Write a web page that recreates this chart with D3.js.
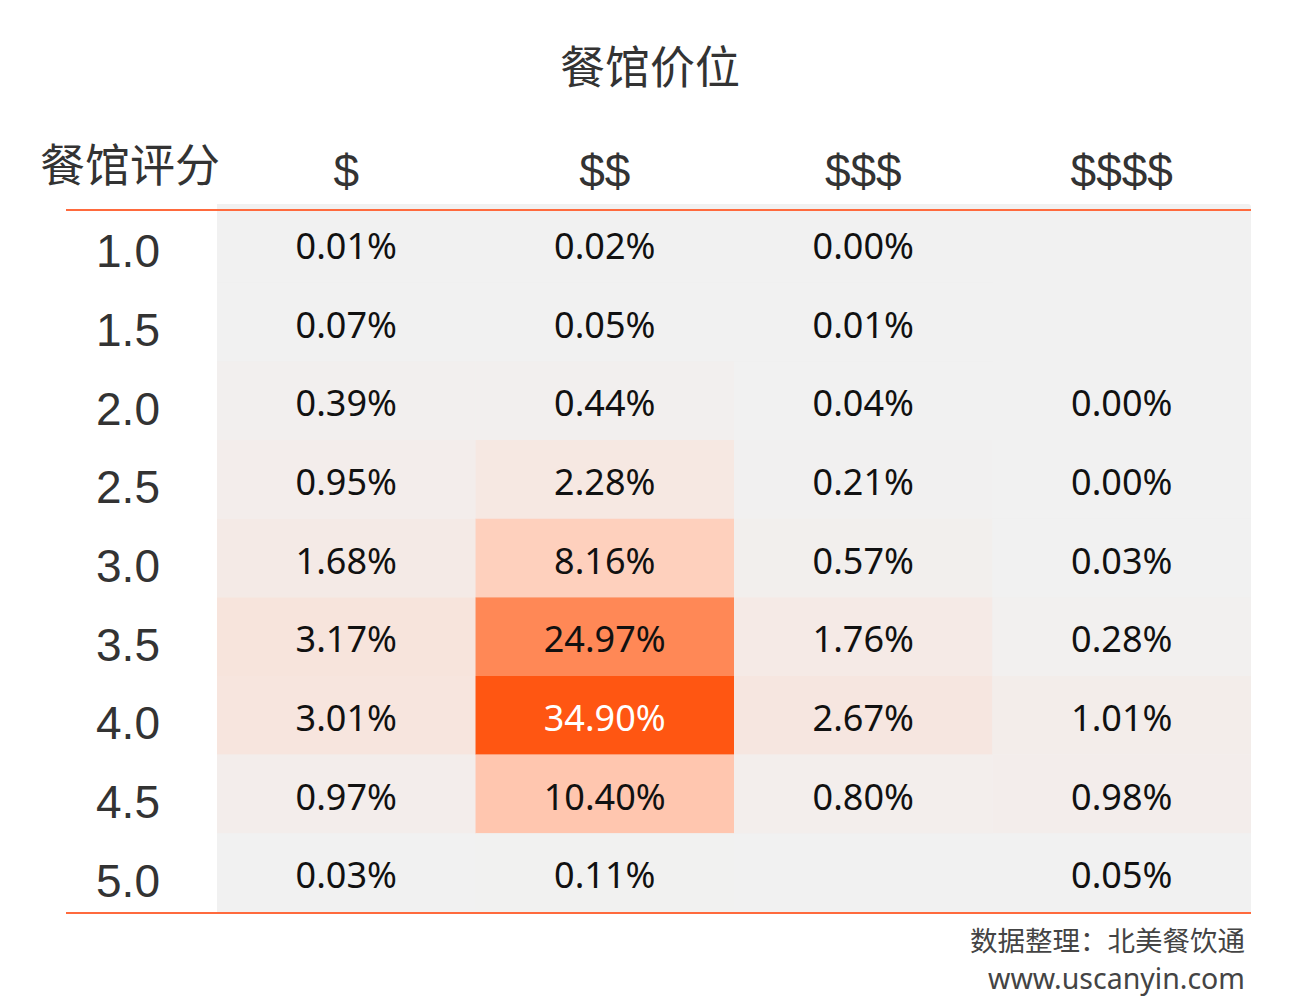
<!DOCTYPE html>
<html>
<head>
<meta charset="utf-8">
<script src="https://cdn.jsdelivr.net/npm/d3@7"></script>
<style>
  html, body { margin: 0; padding: 0; background: #ffffff; }
  svg { display: block; }
</style>
</head>
<body>
<svg id="chart" width="1300" height="1000"></svg>
<script>
// ---- data ----
const ratings = ["1.0", "1.5", "2.0", "2.5", "3.0", "3.5", "4.0", "4.5", "5.0"];
const prices = ["$", "$$", "$$$", "$$$$"];
const price1 = [0.01, 0.07, 0.39, 0.95, 1.68, 3.17, 3.01, 0.97, 0.03];
const price2 = [0.02, 0.05, 0.44, 2.28, 8.16, 24.97, 34.90, 10.40, 0.11];
const price3 = [0.00, 0.01, 0.04, 0.21, 0.57, 1.76, 2.67, 0.80, null];
const price4 = [null, null, 0.00, 0.00, 0.03, 0.28, 1.01, 0.98, 0.05];
const titleText = "餐馆价位";
const rowTitle = "餐馆评分";
const sourceText = "数据整理：北美餐饮通";
const siteText = "www.uscanyin.com";

(function () {
  const series = [price1, price2, price3, price4];
  const cells = [];
  prices.forEach((p, j) => {
    ratings.forEach((r, i) => {
      cells.push({ price: p, rating: r, value: series[j][i] });
    });
  });

  // ---- layout ----
  const svg = d3.select("#chart");
  const x0 = 217, x1 = 1251, y0 = 204, y1 = 912;

  const x = d3.scaleBand().domain(prices).range([x0, x1]);
  const y = d3.scaleBand().domain(ratings).range([y0, y1]);
  const maxV = d3.max(cells, d => d.value);
  const color = d3.scaleLinear().domain([0, maxV]).range(["#f1f1f1", "#ff5612"]).interpolate(d3.interpolateLab);

  // table background
  svg.append("rect")
    .attr("x", x0).attr("y", y0)
    .attr("width", x1 - x0).attr("height", y1 - y0)
    .attr("rx", 3)
    .attr("fill", "#f1f1f1");

  const filled = cells.filter(d => d.value !== null);

  // cells
  svg.append("g").selectAll("rect")
    .data(filled)
    .join("rect")
    .attr("x", d => x(d.price))
    .attr("y", d => y(d.rating))
    .attr("width", x.bandwidth())
    .attr("height", y.bandwidth())
    .attr("fill", d => color(d.value));

  // cell labels
  svg.append("g").selectAll("text")
    .data(filled)
    .join("text")
    .attr("x", d => x(d.price) + x.bandwidth() / 2)
    .attr("y", d => y(d.rating) + y.bandwidth() / 2 + 2)
    .attr("text-anchor", "middle")
    .attr("dominant-baseline", "central")
    .attr("font-family", "'Noto Sans', 'Open Sans', sans-serif")
    .attr("font-size", 36)
    .attr("fill", d => d.value === maxV ? "#ffffff" : "#111111")
    .text(d => d.value.toFixed(2) + "%");

  // row labels
  svg.append("g").selectAll("text")
    .data(ratings)
    .join("text")
    .attr("x", 128)
    .attr("y", d => y(d) + y.bandwidth() / 2 + 8)
    .attr("text-anchor", "middle")
    .attr("dominant-baseline", "central")
    .attr("font-family", "'Liberation Sans', Arial, sans-serif")
    .attr("font-size", 46)
    .attr("fill", "#333333")
    .text(d => d);

  // column headers
  svg.append("g").selectAll("text")
    .data(prices)
    .join("text")
    .attr("x", d => x(d) + x.bandwidth() / 2)
    .attr("y", 187)
    .attr("text-anchor", "middle")
    .attr("font-family", "'Liberation Sans', Arial, sans-serif")
    .attr("font-size", 46)
    .attr("fill", "#333333")
    .text(d => d);

  // row title
  svg.append("text")
    .attr("x", 130).attr("y", 182)
    .attr("text-anchor", "middle")
    .attr("font-family", "'Noto Sans CJK SC', sans-serif")
    .attr("font-size", 45)
    .attr("fill", "#333333")
    .text(rowTitle);

  // title
  svg.append("text")
    .attr("x", 650).attr("y", 84)
    .attr("text-anchor", "middle")
    .attr("font-family", "'Noto Sans CJK SC', sans-serif")
    .attr("font-size", 45)
    .attr("fill", "#333333")
    .text(titleText);

  // rules
  [210, 913].forEach(yy => {
    svg.append("line")
      .attr("x1", 66).attr("x2", x1)
      .attr("y1", yy).attr("y2", yy)
      .attr("stroke", "#ff6a3d").attr("stroke-width", 2);
  });

  // footer
  svg.append("text")
    .attr("x", 1245).attr("y", 951)
    .attr("text-anchor", "end")
    .attr("font-family", "'Noto Sans CJK SC', sans-serif")
    .attr("font-size", 27.5)
    .attr("fill", "#444444")
    .text(sourceText);
  svg.append("text")
    .attr("x", 1245).attr("y", 989)
    .attr("text-anchor", "end")
    .attr("font-family", "'Noto Sans', 'Open Sans', sans-serif")
    .attr("font-size", 28.5)
    .attr("fill", "#444444")
    .text(siteText);
})();
</script>
</body>
</html>
